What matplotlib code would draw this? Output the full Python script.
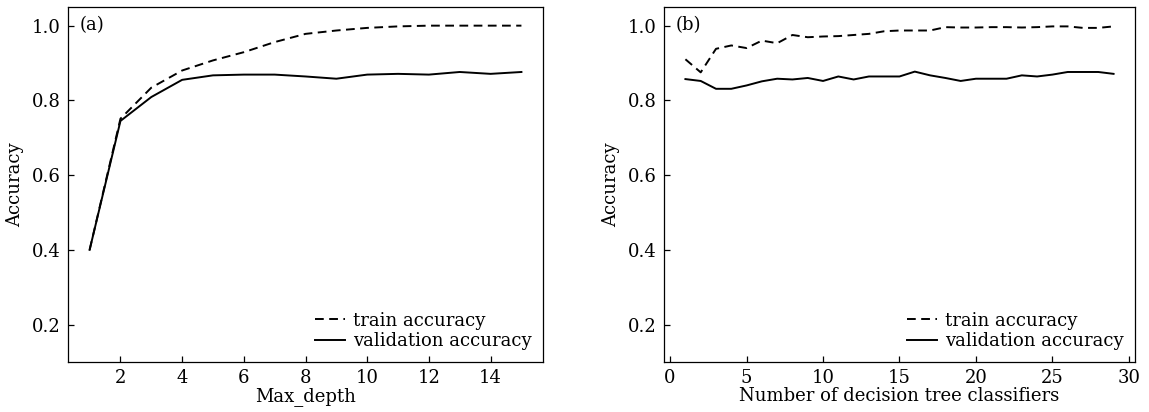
import matplotlib
matplotlib.use("Agg")
import matplotlib.pyplot as plt

# (a) accuracy vs max_depth
depth = list(range(1, 16))
depth_train = [0.40, 0.751, 0.834, 0.880, 0.907, 0.929, 0.956, 0.978, 0.987,
               0.994, 0.998, 1.0, 1.0, 1.0, 1.0]
depth_val = [0.40, 0.745, 0.809, 0.855, 0.867, 0.869, 0.869, 0.864, 0.858,
             0.869, 0.871, 0.869, 0.876, 0.871, 0.876]

# (b) accuracy vs number of trees
n_trees = list(range(1, 30))
trees_train = [0.91, 0.875, 0.938, 0.947, 0.940, 0.960, 0.953, 0.975, 0.969,
               0.971, 0.972, 0.975, 0.978, 0.985, 0.987, 0.987, 0.987, 0.996,
               0.995, 0.995, 0.996, 0.996, 0.995, 0.996, 0.998, 0.998, 0.994,
               0.994, 0.998]
trees_val = [0.857, 0.852, 0.831, 0.831, 0.840, 0.851, 0.858, 0.856, 0.860,
             0.852, 0.864, 0.856, 0.864, 0.864, 0.864, 0.877, 0.867, 0.860,
             0.852, 0.858, 0.858, 0.858, 0.867, 0.864, 0.869, 0.876, 0.876,
             0.876, 0.871]

plt.rcParams['font.family'] = ['DejaVu Serif']
plt.rcParams['font.size'] = 13

fig = plt.figure(figsize=(11.49, 4.12), dpi=100)
ax1 = fig.add_axes([0.0592, 0.1214, 0.4134, 0.8617])
ax2 = fig.add_axes([0.5779, 0.1214, 0.4099, 0.8617])

panels = [
    (ax1, depth, depth_train, depth_val, "Max_depth", "(a)", range(2, 15, 2)),
    (ax2, n_trees, trees_train, trees_val, "Number of decision tree classifiers", "(b)", range(0, 31, 5)),
]

for ax, x, tr, va, xlabel, tag, xt in panels:
    ax.plot(x, tr, color='black', linestyle=(0, (4.5, 2.8)), linewidth=1.4, label='train accuracy')
    ax.plot(x, va, color='black', linestyle='-', linewidth=1.4, label='validation accuracy')
    ax.set_ylim(0.1, 1.05)
    ax.set_xticks(list(xt))
    ax.set_yticks([0.2, 0.4, 0.6, 0.8, 1.0])
    ax.set_xlabel(xlabel, labelpad=0)
    ax.set_ylabel("Accuracy", labelpad=6)
    ax.tick_params(direction='in', length=4, width=0.9, pad=5)
    for s in ax.spines.values():
        s.set_linewidth(0.9)
    ax.text(0.025, 0.975, tag, transform=ax.transAxes, ha='left', va='top')
    ax.legend(loc='lower right', frameon=False, handlelength=1.7,
              handletextpad=0.4, labelspacing=0.15, borderaxespad=0.25)

fig.savefig("out.png", dpi=100)
